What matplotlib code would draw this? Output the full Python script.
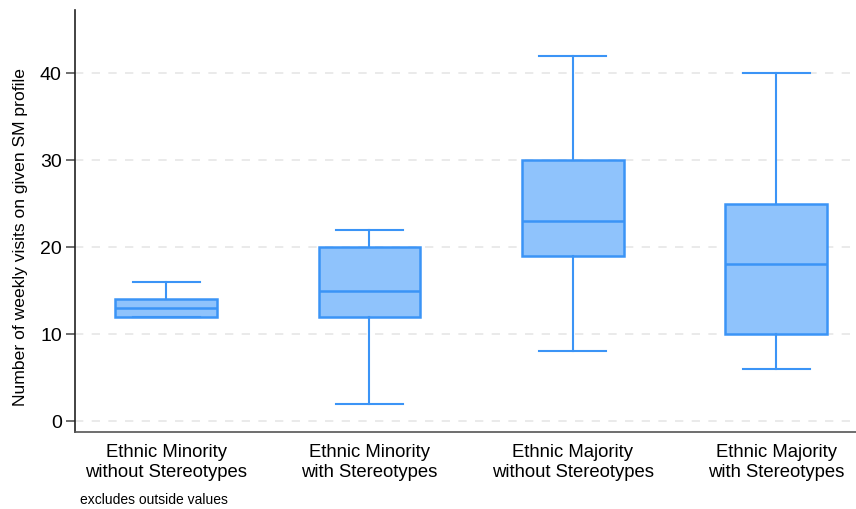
import matplotlib
matplotlib.use("Agg")
import matplotlib.pyplot as plt

groups = ["Ethnic Minority\nwithout Stereotypes", "Ethnic Minority\nwith Stereotypes",
          "Ethnic Majority\nwithout Stereotypes", "Ethnic Majority\nwith Stereotypes"]
whislo = [12, 2, 8, 6]
q1 = [12, 12, 19, 10]
med = [13, 15, 23, 18]
q3 = [14, 20, 30, 25]
whishi = [16, 22, 42, 40]
yticks = [0, 10, 20, 30, 40]

plt.rcParams['font.family'] = ['Liberation Sans', 'DejaVu Sans']

fig = plt.figure(figsize=(8.56, 5.09), dpi=100)
ax = fig.add_axes([0.0876, 0.1513, 0.9124, 0.8287])

edge = "#3b94f6"
fill = "#8fc3fc"

stats = []
for i in range(len(groups)):
    stats.append(dict(whislo=whislo[i], q1=q1[i], med=med[i], q3=q3[i], whishi=whishi[i], fliers=[]))

positions = [1, 2, 3, 4]
ax.bxp(stats, positions=positions, widths=0.5, patch_artist=True, showfliers=False,
       boxprops=dict(facecolor=fill, edgecolor=edge, linewidth=1.8),
       medianprops=dict(color=edge, linewidth=1.8),
       whiskerprops=dict(color=edge, linewidth=1.5),
       capprops=dict(color=edge, linewidth=1.5),
       capwidths=0.33, zorder=3)

ax.set_xlim(0.552, 4.393)
ax.set_ylim(-1.26, 47.24)
ax.set_yticks(yticks)
ax.set_yticklabels([str(v) for v in yticks], fontsize=14)
ax.set_xticks(positions)
ax.set_xticklabels(groups, fontsize=13.3, linespacing=1.2)
ax.tick_params(axis='x', length=0, pad=9)
ax.tick_params(axis='y', length=6.5, width=1.2, color='#555555', pad=3)

for y in yticks:
    ax.axhline(y, color='#e6e6e6', linestyle=(0, (5, 5)), linewidth=1.2, zorder=0)

ax.spines['top'].set_visible(False)
ax.spines['right'].set_visible(False)
ax.spines['left'].set_color('#222222')
ax.spines['bottom'].set_color('#555555')
ax.spines['left'].set_linewidth(1.2)
ax.spines['bottom'].set_linewidth(1.2)

ax.set_ylabel("Number of weekly visits on given SM profile", fontsize=12.6, va='center')
ax.yaxis.set_label_coords(-0.0695, 0.463)

fig.text(80/856, 1 - 504/509, "excludes outside values", fontsize=10, va='baseline', ha='left')

fig.savefig("out.png", dpi=100)
